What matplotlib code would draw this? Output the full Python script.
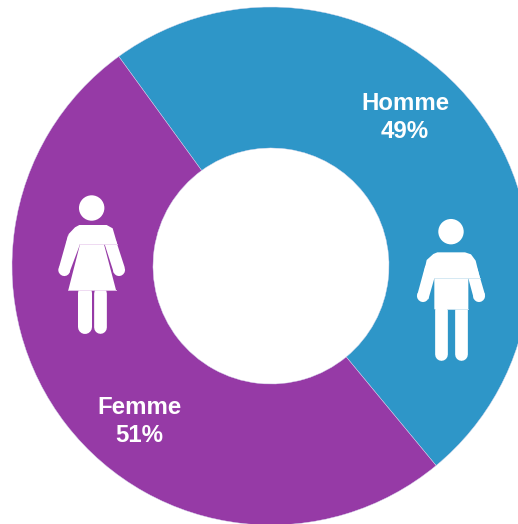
import matplotlib
matplotlib.use('Agg')
import matplotlib.pyplot as plt
from matplotlib.patches import Circle, Polygon

plt.rcParams['font.family'] = ['Liberation Sans', 'DejaVu Sans']

# Data
labels = ['Homme', 'Femme']
shares = [49, 51]
colors = ['#2e96c8', '#963aa6']

W, H = 518, 524
fig = plt.figure(figsize=(W / 100, H / 100), dpi=100)
ax = fig.add_axes([0, 0, 1, 1])

# donut, in pixel coordinates of the image
cx, cy = 271, H - 266
ax.pie(shares, colors=colors, startangle=126, counterclock=False,
       center=(cx, cy), radius=259, frame=True,
       wedgeprops=dict(width=141, edgecolor='#d8d8ee', linewidth=0.3))
ax.set_xlim(0, W)
ax.set_ylim(0, H)
ax.set_aspect('equal')
ax.axis('off')


# icon pieces are measured in the 3x zoom, (ox, oy) is the zoom crop origin
def pt(p, ox, oy):
    return (ox + p[0] / 3, H - (oy + p[1] / 3))


def limb(a, b, width, ox, oy):
    p0, p1 = pt(a, ox, oy), pt(b, ox, oy)
    ax.plot([p0[0], p1[0]], [p0[1], p1[1]], color='white', lw=width * 0.72,
            solid_capstyle='round', zorder=3)


def seam(a, b, color, ox, oy):
    p0, p1 = pt(a, ox, oy), pt(b, ox, oy)
    ax.plot([p0[0], p1[0]], [p0[1], p1[1]], color=color, lw=0.6, zorder=4)


def shape(points, ox, oy):
    ax.add_patch(Polygon([pt(p, ox, oy) for p in points], closed=True,
                         fc='white', ec='none', zorder=3))


# man
ox, oy = 400, 200
ax.add_patch(Circle(pt((153, 95), ox, oy), 12.7, fc='white', ec='none', zorder=3))
shape([(112, 157), (195, 157), (213, 163), (227, 182), (240, 235), (205, 235), (205, 328),
       (103, 328), (103, 235), (68, 235), (80, 180), (100, 162)], ox, oy)
shape([(76, 196), (103, 235), (85, 298), (52, 284)], ox, oy)
shape([(232, 205), (205, 235), (222, 298), (255, 284)], ox, oy)
limb((68, 288), (69, 289), 11.5, ox, oy)
limb((238, 288), (237, 289), 11.5, ox, oy)
limb((122, 330), (122, 461), 12.7, ox, oy)
limb((184, 330), (184, 461), 12.7, ox, oy)
seam((103, 235), (240, 235), '#cfe5f1', ox, oy)
seam((141, 328), (203, 328), '#cfe5f1', ox, oy)

# woman
ox, oy = 40, 180
ax.add_patch(Circle(pt((155, 84), ox, oy), 12.7, fc='white', ec='none', zorder=3))
shape([(118, 135), (200, 135), (218, 145), (232, 193), (192, 193), (228, 330),
       (85, 330), (120, 193), (78, 193), (86, 162), (105, 142)], ox, oy)
shape([(84, 166), (120, 193), (88, 278), (57, 262)], ox, oy)
shape([(228, 182), (194, 193), (222, 280), (254, 262)], ox, oy)
limb((72, 270), (73, 271), 11.5, ox, oy)
limb((238, 270), (237, 271), 11.5, ox, oy)
limb((134, 340), (134, 440), 14, ox, oy)
limb((179, 340), (179, 441), 12.7, ox, oy)
seam((118, 193), (232, 193), '#ecd5f0', ox, oy)
seam((85, 330), (228, 330), '#ecd5f0', ox, oy)

# labels
for name, share, x, y in [(labels[0], shares[0], 405, 104), (labels[1], shares[1], 139.5, 408)]:
    ax.text(x, H - y, name, color='white', fontsize=17.3, fontweight='bold',
            ha='center', va='center', zorder=5)
    ax.text(x, H - y - 28, f'{share}%', color='white', fontsize=17.3, fontweight='bold',
            ha='center', va='center', zorder=5)

fig.savefig('out.png', dpi=100)
